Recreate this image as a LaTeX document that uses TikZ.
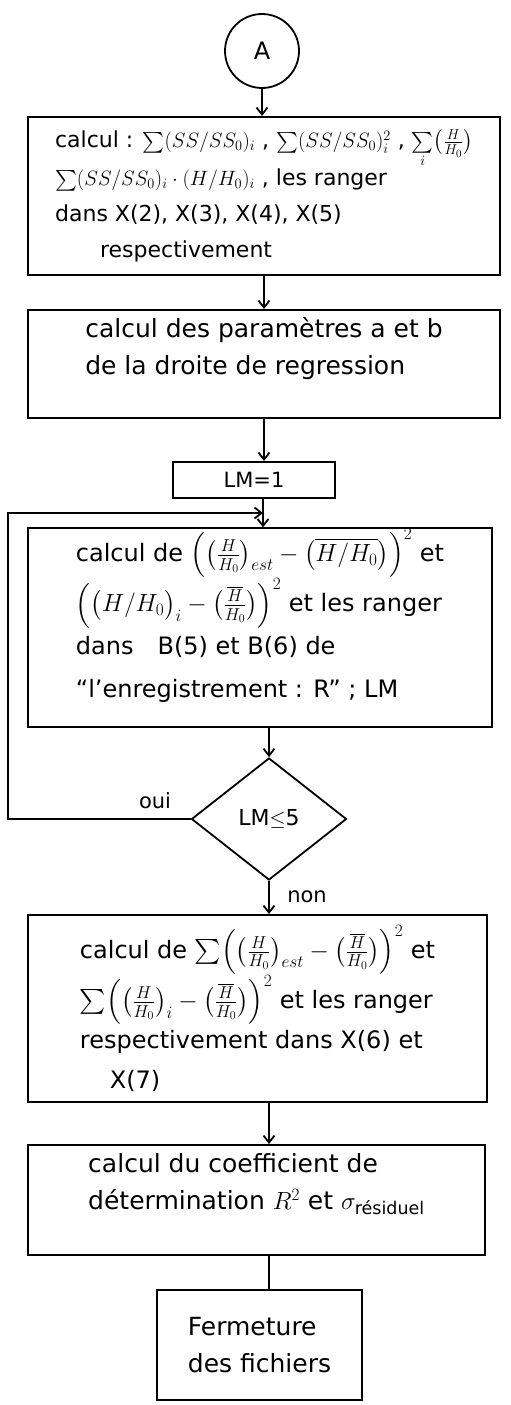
\documentclass[tikz,border=0pt]{standalone}
\usepackage{amsmath}
\usepackage{fontspec}
\setmainfont{DejaVu Sans}
\usetikzlibrary{arrows.meta,shapes.geometric}
\tikzset{
  % noeuds de l'organigramme
  conn-c/.style={draw,circle,minimum size=74pt,inner sep=0pt,line width=1.8pt,font=\fontsize{24}{28}\selectfont},
  proc/.style={draw,rectangle,inner sep=0pt,line width=2pt,align=left,font=\fontsize{25}{37}\selectfont},
  decis/.style={draw,diamond,minimum width=155pt,minimum height=122pt,inner sep=0pt,line width=1.8pt,font=\fontsize{22}{25}\selectfont},
  % liaisons
  flow/.style={-{Straight Barb[length=7pt,width=11pt]},line width=1.8pt},
  link/.style={line width=1.8pt},
  lbl/.style={font=\fontsize{21}{24}\selectfont},
}

\begin{document}
\begin{tikzpicture}[x=1pt,y=-1pt]
  \useasboundingbox (0,0) rectangle (511,1405);
  \node[conn-c] (conn-a) at (262,51) {A};
  \node[proc,minimum width=472pt,minimum height=158pt,font=\fontsize{22}{36}\selectfont] (calc-sums) at (264,196)
    {calcul : $\sum(SS/SS_0)_i$ , $\sum(SS/SS_0)_i^2$ , $\sum\limits_i\bigl(\frac{H}{H_0}\bigr)$\\
     $\sum(SS/SS_0)_i\cdot(H/H_0)_i$ , les ranger\\
     dans X(2), X(3), X(4), X(5)\\
     \hspace*{45pt}respectivement};
  \node[proc,minimum width=472pt,minimum height=108pt] (calc-ab) at (264,364)
    {calcul des paramètres a et b\\de la droite de regression\\\mbox{}};
  \node[proc,minimum width=162pt,minimum height=36pt,font=\fontsize{21}{24}\selectfont] (lm-init) at (254,480) {LM=1};
  \node[proc,minimum width=464pt,minimum height=189pt,font=\fontsize{24}{43}\selectfont] (calc-dev) at (260,627.5)
    {calcul de $\Bigl(\bigl(\frac{H}{H_0}\bigr)_{est}-\bigl(\overline{H/H_0}\bigr)\Bigr)^2$ et\\
     $\Bigl(\bigl(H/H_0\bigr)_i-\bigl(\frac{\overline{H}}{H_0}\bigr)\Bigr)^2$ et les ranger\\
     dans\quad B(5) et B(6) de\\
     “l'enregistrement : R” ; LM\\[-14pt]\mbox{}};
  \node[decis] (test-lm) at (269,819) {LM$\leq$5};
  \node[proc,minimum width=459pt,minimum height=187pt,font=\fontsize{24}{40}\selectfont] (calc-sum2) at (257.5,1008.5)
    {calcul de $\sum\Bigl(\bigl(\frac{H}{H_0}\bigr)_{est}-\bigl(\frac{\overline{H}}{H_0}\bigr)\Bigr)^2$ et\\
     $\sum\Bigl(\bigl(\frac{H}{H_0}\bigr)_i-\bigl(\frac{\overline{H}}{H_0}\bigr)\Bigr)^2$ et les ranger\\
     respectivement dans X(6) et\\
     \hspace*{30pt}X(7)};
  \node[proc,minimum width=457pt,minimum height=110pt] (calc-r2) at (256.5,1200)
    {calcul du coefficient de\\détermination $R^2$ et $\sigma_{\text{résiduel}}$\\\mbox{}};
  \node[proc,minimum width=205pt,minimum height=110pt] (close-f) at (259.5,1345)
    {Fermeture\\des fichiers};
  % liaisons
  \coordinate (join) at (263,513);
  \coordinate (back) at (8,513);
  \draw[flow] (conn-a.south) -- (conn-a.south |- calc-sums.north);
  \draw[flow] (calc-ab.north |- calc-sums.south) -- (calc-ab.north);
  \draw[flow] (calc-ab.south) -- (calc-ab.south |- lm-init.north);
  \draw[link] (lm-init.south -| join) -- (join);
  \draw[flow] (join) -- (join |- calc-dev.north);
  \draw[flow] (test-lm.north |- calc-dev.south) -- (test-lm.north);
  \draw[flow] (test-lm.west) -| (back) -- (join);
  \draw[flow] (test-lm.south) -- (test-lm.south |- calc-sum2.north);
  \draw[flow] (test-lm.south |- calc-sum2.south) -- (test-lm.south |- calc-r2.north);
  \draw[link] (test-lm.south |- calc-r2.south) -- (test-lm.south |- close-f.north);
  \node[lbl] (lbl-oui) at (155,801) {oui};
  \node[lbl] (lbl-non) at (307,897) {non};
\end{tikzpicture}
\end{document}
